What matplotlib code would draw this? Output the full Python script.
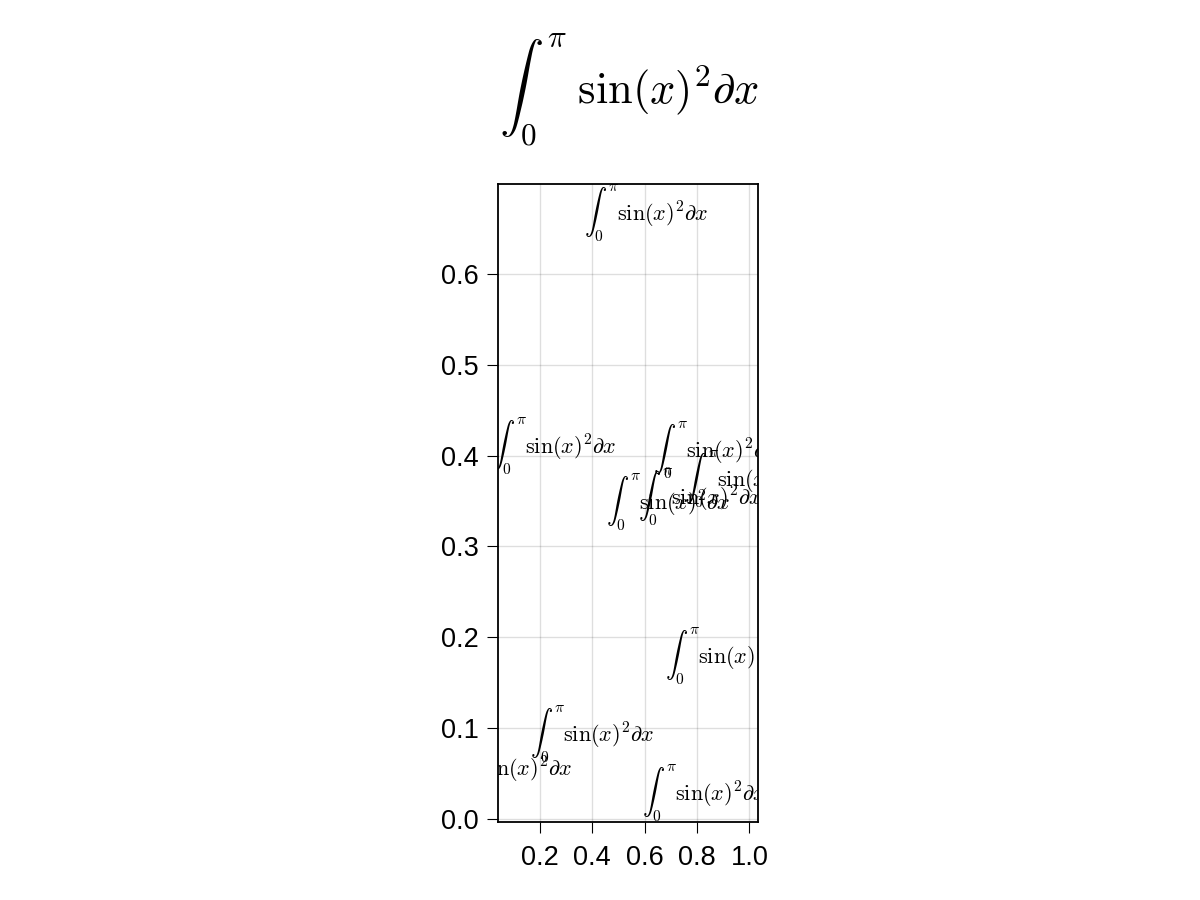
import matplotlib
matplotlib.use("Agg")
import matplotlib.pyplot as plt

# Label anchor positions (centres of the LaTeX labels)
label_x = [0.6065, 0.257, 0.6914, 0.8133, 0.8705, 0.9886, 0.916, 0.402, 0.0857, 0.8286]
label_y = [0.667, 0.4107, 0.349, 0.3545, 0.406, 0.374, 0.179, 0.0936, 0.056, 0.029]
formula = r"$\int_0^\pi \sin(x)^2 \partial x$"
title_text = r"$\int_0^\pi \ \sin(x)^2 \partial x$"
xticks = [0.2, 0.4, 0.6, 0.8, 1.0]
xtick_labels = ["0.2", "0.4", "0.6", "0.8", "1.0"]
yticks = [0.0, 0.1, 0.2, 0.3, 0.4, 0.5, 0.6]
ytick_labels = ["0.0", "0.1", "0.2", "0.3", "0.4", "0.5", "0.6"]

plt.rcParams["font.family"] = ["Liberation Sans", "DejaVu Sans"]

fig = plt.figure(figsize=(12, 9), dpi=100)
fig.patch.set_facecolor("white")
ax = fig.add_axes([498 / 1200, 78.3 / 900, 260.3 / 1200, 637.7 / 900])

for x, y in zip(label_x, label_y):
    ax.text(x, y, formula, ha="center", va="center", fontsize=16,
            math_fontfamily="cm", clip_on=True, color="black")

xr = max(label_x) - min(label_x)
yr = max(label_y) - min(label_y)
ax.set_xlim(min(label_x) - 0.05 * xr, max(label_x) + 0.05 * xr)
ax.set_ylim(min(label_y) - 0.05 * yr, max(label_y) + 0.05 * yr)

ax.set_xticks(xticks)
ax.set_xticklabels(xtick_labels)
ax.set_yticks(yticks)
ax.set_yticklabels(ytick_labels)
ax.tick_params(axis="both", direction="out", length=8, width=0.8, labelsize=19.5, color="black")
ax.tick_params(axis="x", pad=9)
ax.tick_params(axis="y", pad=6)
ax.grid(True, color="black", alpha=0.13, linewidth=1.0)
ax.set_axisbelow(True)
for s in ax.spines.values():
    s.set_linewidth(1.3)
    s.set_color("black")

fig.text(629 / 1200, 1 - 90 / 900, title_text, ha="center", va="center",
         fontsize=32, math_fontfamily="cm")

fig.savefig("out.png", dpi=100, facecolor="white")
